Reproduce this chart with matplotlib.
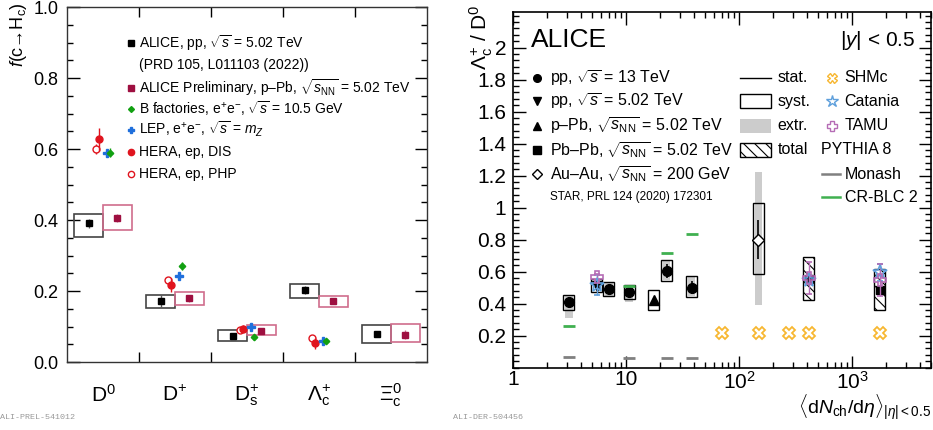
import numpy as np
import matplotlib
matplotlib.use('Agg')
import matplotlib.pyplot as plt
from matplotlib.patches import Rectangle
from matplotlib.ticker import FixedLocator, MultipleLocator, LogLocator, NullFormatter

plt.rcParams['font.family'] = ['Liberation Sans', 'DejaVu Sans']
plt.rcParams['mathtext.fontset'] = 'custom'
plt.rcParams['mathtext.rm'] = 'Liberation Sans'
plt.rcParams['mathtext.it'] = 'Liberation Sans:italic'
plt.rcParams['mathtext.bf'] = 'Liberation Sans:bold'
plt.rcParams['hatch.linewidth'] = 0.8

# ---------------- left panel data: fragmentation fractions ----------------
cats = [r'D$^{0}$', r'D$^{+}$', r'D$_{\rm s}^{+}$', r'$\Lambda_{\rm c}^{+}$', r'$\Xi_{\rm c}^{0}$']

pp_val = [0.391, 0.172, 0.073, 0.203, 0.080]
pp_stat = [0.013, 0.016, 0.006, 0.012, 0.008]
pp_syst_lo = [0.353, 0.151, 0.060, 0.181, 0.054]
pp_syst_hi = [0.416, 0.190, 0.090, 0.219, 0.103]

ppb_val = [0.406, 0.179, 0.087, 0.171, 0.077]
ppb_stat = [0.012, 0.009, 0.005, 0.008, 0.012]
ppb_syst_lo = [0.371, 0.162, 0.077, 0.154, 0.056]
ppb_syst_hi = [0.443, 0.196, 0.103, 0.185, 0.107]

hera_dis = [0.627, 0.216, 0.094, 0.053]
hera_dis_err = [0.033, 0.020, 0.010, 0.015]
hera_php = [0.600, 0.232, 0.090, 0.068]
hera_php_err = [0.015, 0.006, 0.005, 0.005]
lep = [0.590, 0.242, 0.099, 0.059]
lep_err = [0.010, 0.008, 0.006, 0.005]
bfac = [0.590, 0.270, 0.070, 0.060]
bfac_err = [0.012, 0.012, 0.008, 0.006]

# ---------------- right panel data: Lc/D0 vs multiplicity ----------------
pp13_x = [3.1, 7.0, 10.6, 22.8, 37.9]
pp13_y = [0.409, 0.494, 0.475, 0.606, 0.500]
pp13_stat = [0.030, 0.012, 0.020, 0.045, 0.040]
pp13_syst_lo = [0.360, 0.446, 0.430, 0.544, 0.440]
pp13_syst_hi = [0.454, 0.537, 0.519, 0.673, 0.573]
pp13_extr_lo = [0.310, 0.450, 0.410, 0.550, 0.450]
pp13_extr_hi = [0.450, 0.535, 0.515, 0.670, 0.570]

pp5_x = [5.5]
pp5_y = [0.510]
pp5_stat = [0.020]
pp5_syst_lo = [0.471]
pp5_syst_hi = [0.552]

ppb_x = [17.5]
ppb_y = [0.423]
ppb_stat_r = [0.020]
ppb_syst_lo_r = [0.360]
ppb_syst_hi_r = [0.486]

auau_x = [148]
auau_y = [0.80]
auau_stat = [0.12]
auau_syst_lo = [0.586]
auau_syst_hi = [1.03]
auau_extr_lo = [0.39]
auau_extr_hi = [1.225]

pbpb_x = [414, 1759]
pbpb_y = [0.556, 0.485]
pbpb_stat = [0.020, 0.020]
pbpb_syst_lo = [0.424, 0.360]
pbpb_syst_hi = [0.694, 0.615]

shm_x = [70.8, 150, 277, 414, 1759]
shm_y = [0.215, 0.215, 0.215, 0.215, 0.215]
catania_x = [5.5, 414, 1759]
catania_y = [0.517, 0.550, 0.596]
catania_err = [0.060, 0.030, 0.055]
tamu_x = [5.5, 414, 1759]
tamu_y = [0.565, 0.560, 0.548]
tamu_err = [0.020, 0.100, 0.100]
monash_x = [3.1, 10.6, 22.8, 37.9]
monash_y = [0.067, 0.063, 0.060, 0.058]
crblc_x = [3.1, 10.6, 22.8, 37.9]
crblc_y = [0.2625, 0.5125, 0.715, 0.8375]

red = '#e0141e'
green = '#11a011'
blue = '#1f6fdc'
maroon = '#9e0f40'
pink = '#cf6d8c'
orange = '#f7b731'
lblue = '#5fa0dc'
purple = '#b56cb5'
hatch = '\\\\\\'

fig = plt.figure(figsize=(9.33, 4.3), dpi=100)

# ======================= left panel =======================
ax1 = fig.add_axes([0.0718, 0.1581, 0.3859, 0.8256])
ax1.set_xlim(0, 5)
ax1.set_ylim(0, 1)

xc = np.arange(len(cats)) + 0.5
for i in range(len(cats)):
    ax1.add_patch(Rectangle((xc[i] - 0.4, pp_syst_lo[i]), 0.4, pp_syst_hi[i] - pp_syst_lo[i],
                            fill=False, ec='#444444', lw=1.2, zorder=2))
    ax1.add_patch(Rectangle((xc[i], ppb_syst_lo[i]), 0.4, ppb_syst_hi[i] - ppb_syst_lo[i],
                            fill=False, ec=pink, lw=1.2, zorder=2))
ax1.errorbar(xc - 0.2, pp_val, yerr=pp_stat, fmt='s', color='black', ms=5, elinewidth=1,
             ecolor='#555555', zorder=3)
ax1.errorbar(xc + 0.2, ppb_val, yerr=ppb_stat, fmt='s', color=maroon, ms=5, elinewidth=1,
             ecolor=pink, zorder=3)

xo = xc[:4]
ax1.errorbar(xo - 0.1, hera_php, yerr=hera_php_err, fmt='o', mfc='white', mec=red, color=red,
             ms=5, elinewidth=1, zorder=3)
ax1.errorbar(xo - 0.05, hera_dis, yerr=hera_dis_err, fmt='o', color=red, ms=5, elinewidth=1, zorder=4)
ax1.errorbar(xo + 0.05, lep, yerr=lep_err, fmt='P', color=blue, ms=6, elinewidth=1, zorder=4)
ax1.errorbar(xo + 0.1, bfac, yerr=bfac_err, fmt='D', color=green, ms=3.3, elinewidth=1, zorder=4)

ax1.set_xticks([1, 2, 3, 4])
ax1.set_xticklabels([])
ax1.yaxis.set_major_locator(FixedLocator([0.0, 0.2, 0.4, 0.6, 0.8, 1.0]))
ax1.yaxis.set_minor_locator(MultipleLocator(0.05))
ax1.set_yticklabels(['0.0', '0.2', '0.4', '0.6', '0.8', '1.0'])
ax1.tick_params(axis='y', which='major', direction='in', length=9, width=1, labelsize=13,
                left=True, right=True, pad=6)
ax1.tick_params(axis='y', which='minor', direction='in', length=4.5, width=1, left=True, right=True)
ax1.tick_params(axis='x', which='major', direction='in', length=7.5, width=1, top=True, bottom=True)
for s in ax1.spines.values():
    s.set_linewidth(1)
    s.set_color('#333333')

for i in range(len(cats)):
    ax1.text(xc[i], -0.093, cats[i], ha='center', va='center', fontsize=15)

ax1.text(-0.136, 1.014, r'$f$(c→H$_{\rm c}$)', transform=ax1.transAxes,
         rotation=90, ha='center', va='top', fontsize=13)

# legend (left)
lx_m, lx_t = 0.178, 0.2
rows = [0.899, 0.837, 0.772, 0.713, 0.654, 0.592, 0.530]
ax1.plot(lx_m, rows[0], 's', color='black', ms=4.5, transform=ax1.transAxes)
ax1.plot(lx_m, rows[2], 's', color=maroon, ms=4.5, transform=ax1.transAxes)
ax1.plot(lx_m, rows[3], 'D', color=green, ms=3, transform=ax1.transAxes)
ax1.plot(lx_m, rows[4], 'P', color=blue, ms=5, transform=ax1.transAxes)
ax1.plot(lx_m, rows[5], 'o', color=red, ms=4.5, transform=ax1.transAxes)
ax1.plot(lx_m, rows[6], 'o', mfc='white', mec=red, ms=4.5, transform=ax1.transAxes)
left_leg = [r'ALICE, pp, $\sqrt{s}$ = 5.02 TeV',
            '(PRD 105, L011103 (2022))',
            r'ALICE Preliminary, p–Pb, $\sqrt{s_{\rm NN}}$ = 5.02 TeV',
            r'B factories, e$^{+}$e$^{-}$, $\sqrt{s}$ = 10.5 GeV',
            r'LEP, e$^{+}$e$^{-}$, $\sqrt{s}$ = $m_{Z}$',
            'HERA, ep, DIS',
            'HERA, ep, PHP']
for r, t in zip(rows, left_leg):
    ax1.text(lx_t, r, t, transform=ax1.transAxes, ha='left', va='center', fontsize=10)

fig.text(0.0, 0.028, 'ALI-PREL-541012', fontsize=6, color='#999999', family='Liberation Mono',
         ha='left', va='center')
fig.text(0.4855, 0.028, 'ALI-DER-504456', fontsize=6, color='#999999', family='Liberation Mono',
         ha='left', va='center')

# ======================= right panel =======================
ax2 = fig.add_axes([0.5502, 0.1449, 0.4477, 0.8279])
ax2.set_xscale('log')
ax2.set_xlim(1, 5000)
ax2.set_ylim(0, 2.225)

fb = 1.118   # half width of syst box (multiplicative, log axis)
fe = 1.08    # half width of extrapolation band


def box(ax, x, lo, hi, f, **kw):
    ax.add_patch(Rectangle((x / f, lo), x * f - x / f, hi - lo, **kw))


for i in range(len(pp13_x)):
    box(ax2, pp13_x[i], pp13_extr_lo[i], pp13_extr_hi[i], fe, fc='#cccccc', ec='none', zorder=1)
    box(ax2, pp13_x[i], pp13_syst_lo[i], pp13_syst_hi[i], fb, fill=False, ec='black', lw=1, zorder=2)
box(ax2, auau_x[0], auau_extr_lo[0], auau_extr_hi[0], fe, fc='#cccccc', ec='none', zorder=1)
box(ax2, auau_x[0], auau_syst_lo[0], auau_syst_hi[0], fb, fill=False, ec='black', lw=1, zorder=2)
box(ax2, pp5_x[0], pp5_syst_lo[0], pp5_syst_hi[0], fb, fill=False, ec='black', lw=1, zorder=2)
box(ax2, ppb_x[0], ppb_syst_lo_r[0], ppb_syst_hi_r[0], fb, fill=False, ec='black', lw=1, zorder=2)
for i in range(len(pbpb_x)):
    box(ax2, pbpb_x[i], pbpb_syst_lo[i], pbpb_syst_hi[i], fb, fc='white', ec='black', lw=1,
        hatch=hatch, zorder=2)

ax2.errorbar(pp13_x, pp13_y, yerr=pp13_stat, fmt='o', color='black', ms=7, elinewidth=1.2, zorder=3)
ax2.errorbar(pp5_x, pp5_y, yerr=pp5_stat, fmt='v', color='black', ms=7, elinewidth=1.2, zorder=3)
ax2.errorbar(ppb_x, ppb_y, yerr=ppb_stat_r, fmt='^', color='black', ms=7, elinewidth=1.2, zorder=3)
ax2.errorbar(auau_x, auau_y, yerr=auau_stat, fmt='D', mfc='white', mec='black', color='black',
             ms=6, elinewidth=1.2, zorder=3)
ax2.errorbar(pbpb_x, pbpb_y, yerr=pbpb_stat, fmt='s', color='black', ms=6, elinewidth=1.2, zorder=3)

ax2.plot(shm_x, shm_y, 'X', mfc='none', mec=orange, mew=1.3, ms=9, ls='none', zorder=4)
ax2.errorbar(catania_x, catania_y, yerr=catania_err, fmt='*', mfc='none', mec=lblue, color=lblue,
             ms=10, mew=1.2, elinewidth=1, capsize=2, zorder=5)
ax2.errorbar(tamu_x, tamu_y, yerr=tamu_err, fmt='P', mfc='none', mec=purple, color=purple,
             ms=9, mew=1.2, elinewidth=1, capsize=2, zorder=5)
ax2.plot(monash_x, monash_y, '_', color='#808080', ms=8, mew=2, ls='none', zorder=4)
ax2.plot(crblc_x, crblc_y, '_', color='#40b050', ms=8, mew=2, ls='none', zorder=4)

ax2.set_xticks([1, 10, 100, 1000])
ax2.set_xticklabels(['1', '10', r'10$^{2}$', r'10$^{3}$'])
ax2.xaxis.set_minor_locator(LogLocator(base=10, subs=np.arange(2, 10), numticks=20))
ax2.xaxis.set_minor_formatter(NullFormatter())
yt = np.round(np.arange(0.2, 2.01, 0.2), 1)
ax2.yaxis.set_major_locator(FixedLocator(yt))
ax2.set_yticklabels(['%g' % v for v in yt])
ax2.yaxis.set_minor_locator(MultipleLocator(0.04))
ax2.tick_params(which='major', direction='in', length=9, width=1, labelsize=15,
                top=True, bottom=True, left=True, right=True, pad=5)
ax2.tick_params(axis='x', which='major', pad=2)
ax2.tick_params(which='minor', direction='in', length=4.5, width=1,
                top=True, bottom=True, left=True, right=True)
for s in ax2.spines.values():
    s.set_linewidth(1.2)

ax2.text(-0.077, 1.02, r'$\Lambda_{\rm c}^{+}$ / D$^{0}$', transform=ax2.transAxes, rotation=90,
         ha='center', va='top', fontsize=15)
ax2.text(1.0, -0.112, r'$\langle{\rm d}N_{\rm ch}/{\rm d}\eta\rangle_{|\eta|<0.5}$',
         transform=ax2.transAxes, ha='right', va='center', fontsize=14)

ax2.text(0.042, 0.920, 'ALICE', transform=ax2.transAxes, ha='left', va='center', fontsize=19)
ax2.text(0.962, 0.920, r'|$y$| < 0.5', transform=ax2.transAxes, ha='right', va='center', fontsize=15)

# legend (right): measurements
rr = [0.814, 0.749, 0.679, 0.612, 0.544]
mk = ['o', 'v', '^', 's', 'D']
for r, m in zip(rr, mk):
    if m == 'D':
        ax2.plot(0.057, r, m, mfc='white', mec='black', ms=5, transform=ax2.transAxes)
    else:
        ax2.plot(0.057, r, m, color='black', ms=5.5, transform=ax2.transAxes)
right_leg = [r'pp, $\sqrt{s}$ = 13 TeV',
             r'pp, $\sqrt{s}$ = 5.02 TeV',
             r'p–Pb, $\sqrt{s_{\rm NN}}$ = 5.02 TeV',
             r'Pb–Pb, $\sqrt{s_{\rm NN}}$ = 5.02 TeV',
             r'Au–Au, $\sqrt{s_{\rm NN}}$ = 200 GeV']
for r, t in zip(rr, right_leg):
    ax2.text(0.088, r, t, transform=ax2.transAxes, ha='left', va='center', fontsize=11.5)
ax2.text(0.088, 0.479, 'STAR, PRL 124 (2020) 172301', transform=ax2.transAxes, ha='left',
         va='center', fontsize=8.5)

# legend (right): uncertainties
bx0, bw, bh = 0.543, 0.074, 0.039
ax2.plot([bx0, bx0 + bw], [rr[0], rr[0]], color='black', lw=1, transform=ax2.transAxes)
ax2.add_patch(Rectangle((bx0, rr[1] - bh / 2), bw, bh, fill=False, ec='black', lw=1,
                        transform=ax2.transAxes))
ax2.add_patch(Rectangle((bx0, rr[2] - bh / 2), bw, bh, fc='#cccccc', ec='none',
                        transform=ax2.transAxes))
ax2.add_patch(Rectangle((bx0, rr[3] - bh / 2), bw, bh, fc='white', ec='black', lw=1, hatch=hatch,
                        transform=ax2.transAxes))
for r, t in zip(rr[:4], ['stat.', 'syst.', 'extr.', 'total']):
    ax2.text(0.633, r, t, transform=ax2.transAxes, ha='left', va='center', fontsize=11.5)

# legend (right): models
ax2.plot(0.762, rr[0], 'X', mfc='none', mec=orange, mew=1, ms=7, transform=ax2.transAxes)
ax2.plot(0.762, rr[1], '*', mfc='none', mec=lblue, mew=1, ms=9, transform=ax2.transAxes)
ax2.plot(0.762, rr[2], 'P', mfc='none', mec=purple, mew=1, ms=7, transform=ax2.transAxes)
for r, t in zip(rr[:3], ['SHMc', 'Catania', 'TAMU']):
    ax2.text(0.793, r, t, transform=ax2.transAxes, ha='left', va='center', fontsize=11.5)
ax2.text(0.736, rr[3], 'PYTHIA 8', transform=ax2.transAxes, ha='left', va='center', fontsize=11.5)
ax2.plot([0.738, 0.781], [rr[4], rr[4]], color='#808080', lw=1.8, transform=ax2.transAxes)
ax2.plot([0.738, 0.781], [0.479, 0.479], color='#40b050', lw=1.8, transform=ax2.transAxes)
ax2.text(0.793, rr[4], 'Monash', transform=ax2.transAxes, ha='left', va='center', fontsize=11.5)
ax2.text(0.793, 0.479, 'CR-BLC 2', transform=ax2.transAxes, ha='left', va='center', fontsize=11.5)

fig.savefig('out.png', dpi=100)
